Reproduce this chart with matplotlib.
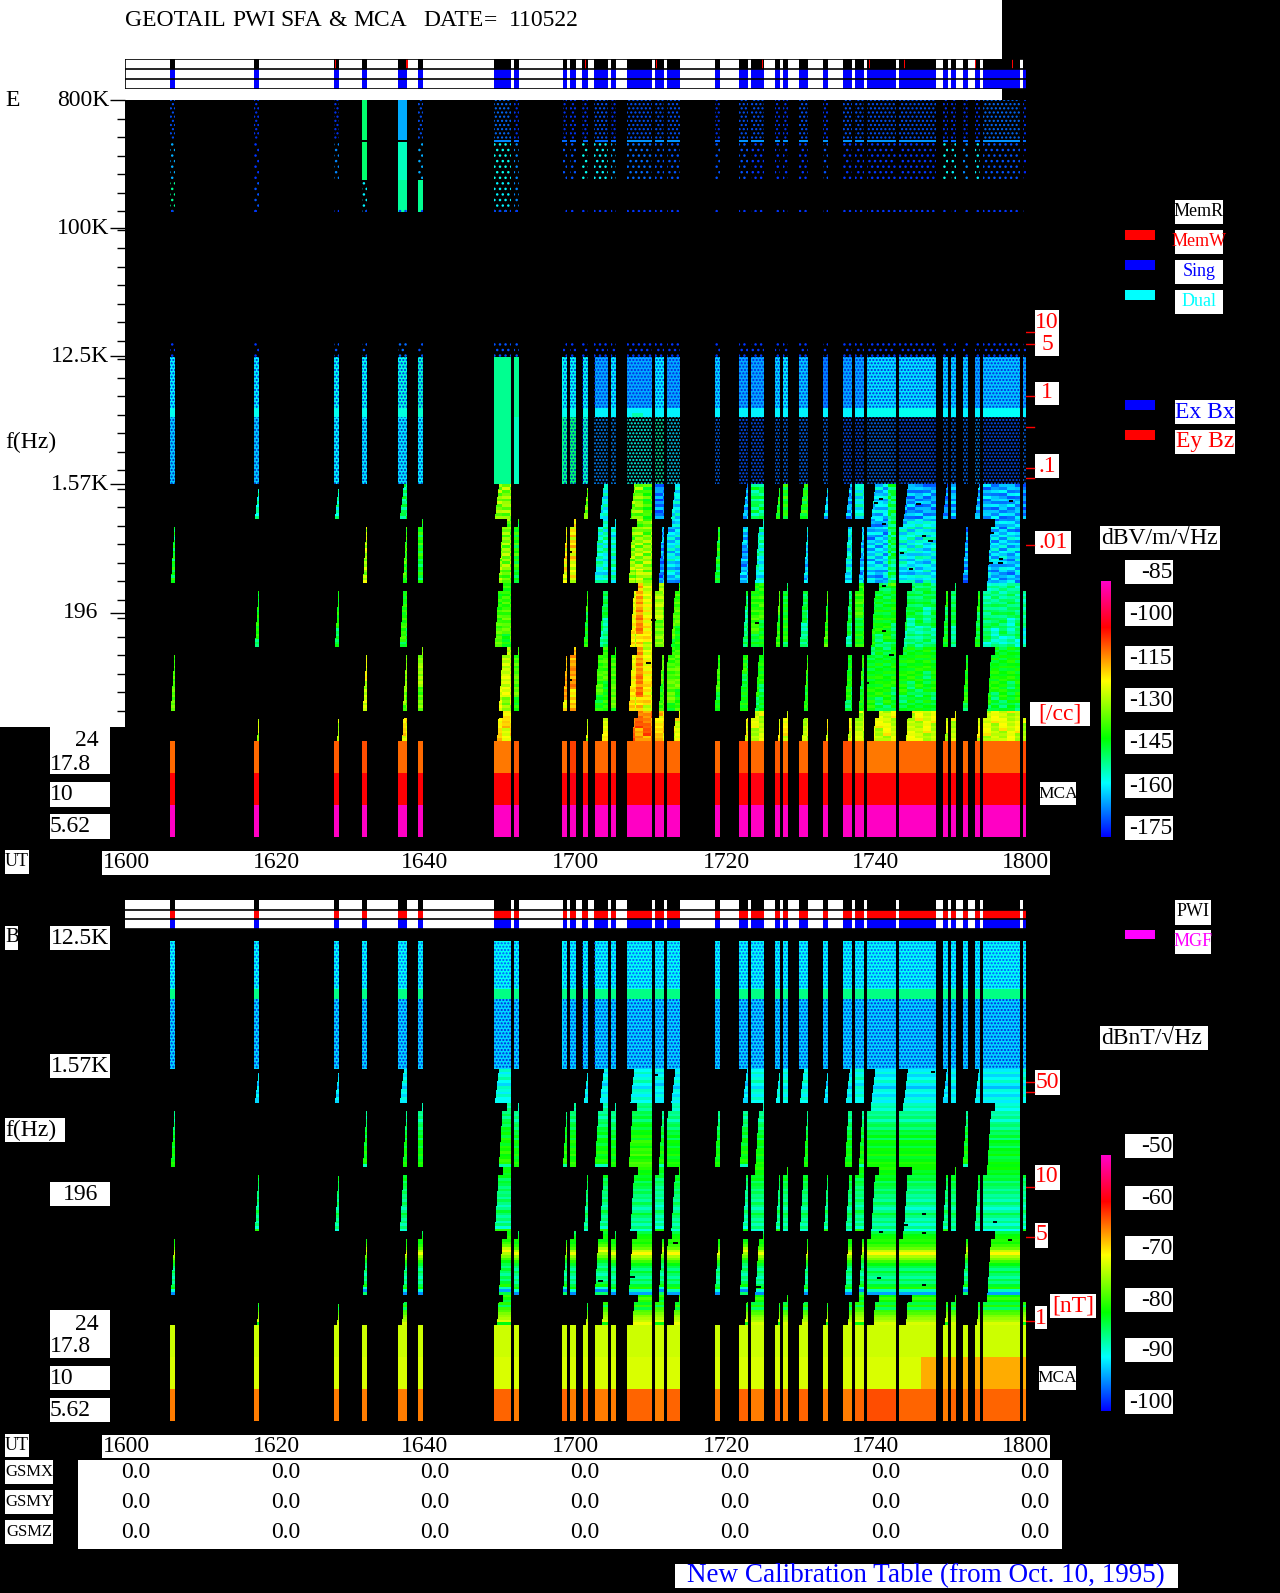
import numpy as np
import matplotlib
matplotlib.use('Agg')
import matplotlib.pyplot as plt
from matplotlib.colors import LinearSegmentedColormap, Normalize
from matplotlib.cm import ScalarMappable
from matplotlib.patches import Rectangle

plt.rcParams['font.family'] = ['Liberation Serif', 'DejaVu Sans']
plt.rcParams['hatch.linewidth'] = 1.0
W, H = 1280, 1593
nan = np.nan

# observation windows, minutes after 1600 UT
burst_start = [6.0, 17.2, 27.87, 31.6, 36.4, 39.07, 49.2, 51.87, 58.27, 59.33, 60.93, 62.53, 64.67, 66.8, 70.53, 72.13, 78.53,
               81.73, 83.33, 86.53, 87.6, 89.73, 92.93, 95.6, 97.2, 98.8, 103.07, 108.93, 110.0, 111.6, 113.2, 114.27, 119.6]
burst_stop = [6.67, 17.87, 28.53, 32.27, 37.6, 39.73, 51.47, 52.53, 58.93, 60.0, 61.6, 64.27, 65.33, 70.13, 71.73, 73.87, 79.2,
              82.93, 85.07, 87.2, 88.27, 90.93, 93.6, 96.8, 98.4, 102.67, 108.0, 109.6, 110.67, 112.27, 113.87, 119.2, 120.0]
# sweep lag at the left of each window, minutes (99 = band not sampled)
odd_lag = [99, .67, .67, 99, .8, 99, .67, 99, 99, 99, .67, 1.2, 99, 1.0, 0, 1.13, 99,
           1.07, 0, .67, 0, .67, .67, .93, 0, 1.13, 1.2, .53, 0, 99, .53, 0, 0]
even_lag = [.67, 99, 99, .67, 1.2, 0, 1.2, 0, .67, 0, 99, .53, 0, .8, 1.07, .2, .53,
            .67, 1.13, 99, 99, 1.2, 99, .8, 1.07, 0, 0, 99, 99, .53, 99, 1.13, 99]
memw_ticks = [27.95, 37.47, 61.2, 70.67, 84.8, 99.07, 103.73, 113.2, 118.13]

band_edges = [1570, 900, 317, 112, 40, 24.4]
band_drop = [.55, .55, .55, .55, .25]
band_step = [0, .125, .125, .125, .26]

# E field levels per window, dBV/m/rtHz
e_band1 = [-158, -155, -155, -150, -150, -160, -133, -160, -140, -140, -135, -158, -160, -140, -168, -160, -160,
           -165, -150, -143, -143, -143, -162, -165, -158, -162, -166, -168, -165, -165, -165, -165, -168]
e_band2 = [-145, -143, -140, -128, -140, -143, -133, -142, -122, -122, -140, -155, -155, -132, -165, -160, -143,
           -163, -155, -150, -150, -160, -150, -158, -162, -162, -158, -155, -155, -165, -155, -162, -165]
e_band3 = [-150, -145, -145, -140, -143, -150, -140, -145, -140, -140, -143, -150, -150, -125, -132, -140, -150,
           -150, -142, -140, -145, -150, -140, -150, -142, -146, -150, -145, -150, -150, -145, -152, -155]
e_band4 = [-140, -140, -140, -128, -136, -135, -130, -140, -120, -119, -140, -142, -140, -125, -140, -140, -143,
           -145, -146, -140, -140, -143, -140, -146, -144, -146, -146, -140, -140, -145, -140, -146, -147]
e_band5 = [-130, -128, -128, -125, -122, -125, -122, -130, -125, -125, -128, -124, -128, -113, -120, -124, -130,
           -124, -127, -125, -124, -127, -124, -125, -128, -126, -126, -127, -127, -130, -125, -126, -128]
e_stripe1 = [3, -4, 5, -6, 2, -3, 6, -5, -1, 4, -4, 2]
e_stripe2 = [-6, -2, -8, -1, -5, 3, -4, -9, 1, -3, 4, -6, 2, -2, 5, -7, 3, -1, 6, -4, 2, -6, 5, 1]
e_stripe3 = [-7, -3, -6, 0, -5, -2, 2, -4, 1, -3, 3, -1, 4, -2, 1, 5, -1, 3, 6, 0, 4, 2, 6, 3]
e_stripe4 = [-5, -2, -6, 1, -3, 2, -1, 4, -2, 3, 0, 5, -1, 3, 1, 4, 6, 2, 5, 0, 6, 3, 7, 4]
e_stripe5 = [-6, -3, -5, -1, -3, 0, -2, 2, 1, 3, 2, 5]
e_shift = [0, 3, 7, 11, 2, 9, 0, 5, 4, 8, 13, 6, 1, 0, 10, 3, 7, 14, 5, 12, 2, 9, 16, 4, 11, 0, 6, 15, 8, 3, 13, 2, 7]
b_shift = [0, 1, 0, 1, 0, 0, 1, 0, 1, 0, 0, 1, 0, 0, 1, 0, 0, 1, 0, 1, 0, 0, 1, 0, 1, 0, 0, 1, 0, 1, 0, 0, 1]
block_shift = [0, 5, 2, 9, 1, 7, 3, 11]

e_sparse_top = [-172, -174, -174, -150, -165, -172, -170, -174, -174, -174, -174, -172, -174, -172, -172, -172, -174,
                -172, -172, -174, -174, -172, -174, -172, -172, -172, -172, -174, -174, -174, -174, -170, -174]
e_line_418k = [nan, nan, nan, nan, nan, nan, -168, -170, -170, -170, -170, -170, -170, -167, -167, -167, -170,
               -167, -167, -167, -167, -167, -167, -167, -167, -167, -167, -170, -170, -170, -170, -167, -170]
e_sparse_mid = [-165, -174, -168, -150, -155, -165, -158, -168, -172, -172, -158, -160, -165, -170, -172, -172, -172,
                -172, -174, -174, -174, -174, -172, -174, -174, -174, -174, -158, -160, -168, -160, -172, -175]
e_sparse_low = [-152, -172, nan, -160, -153, -152, -160, -168, nan, nan, nan, nan, nan, nan, nan, nan, nan,
                nan, nan, nan, nan, nan, nan, nan, nan, nan, nan, nan, nan, nan, nan, nan, nan]
e_dot_row = [-174] * 33
e_onset = [-174, -174, -172, -172, -170, -172, -172, -172, -174, -174, -174, -174, -174, -174, -174, -174, -174,
           -174, -174, -174, -174, -174, -174, -174, -174, -174, -174, -174, -174, -174, -174, -174, -174]
e_plasma_hi = [-160, -160, -158, -158, -157, -156, -152, -152, -158, -158, -158, -165, -160, -165, -160, -165, -162,
               -165, -165, -162, -160, -163, -168, -165, -165, -161, -161, -162, -162, -162, -165, -163, -165]
e_plasma_line = [-158, -158, -158, -158, -157, -156, -152, -152, -158, -158, -158, -160, -160, -160, -160, -160, -160,
                 -160, -160, -160, -160, -160, -160, -160, -160, -158, -158, -160, -160, -160, -160, -159, -160]
e_plasma_lo = [-163, -163, -160, -161, -161, -160, -152, -155, -152, -150, -155, -168, -168, -158, -155, -162, -170,
               -172, -172, -170, -170, -170, -170, -172, -172, -170, -172, -170, -170, -170, -168, -172, -170]
e_mca_hi = [-112, -112, -111, -110, -112, -112, -113, -111, -112, -109, -112, -112, -111, -112, -111, -112, -112,
            -110, -112, -111, -112, -112, -111, -110, -112, -113, -112, -111, -112, -112, -111, -112, -110]
e_mca_mid = [-104, -104, -104, -104, -104, -104, -104, -104, -104, -103, -104, -104, -104, -104, -104, -104, -104,
             -104, -103, -104, -104, -104, -104, -104, -104, -104, -104, -104, -104, -104, -104, -104, -104]
e_mca_lo = [-88.5] * 33

# B field levels per window, dBnT/rtHz
b_band1 = [-90, -90, -90, -90, -89, -90, -88, -90, -88, -88, -89, -89, -90, -88, -89, -89, -90,
           -90, -88, -88, -88, -88, -90, -89, -88, -89, -89, -90, -89, -90, -89, -89, -88]
b_band2 = [-84, -84, -84, -84, -84, -84, -83, -84, -83, -83, -84, -84, -84, -82, -84, -84, -84,
           -84, -84, -84, -84, -84, -84, -84, -84, -84, -84, -84, -84, -84, -84, -85, -84]
b_band3 = [-84, -84, -84, -84, -84, -84, -84, -84, -84, -84, -84, -84, -84, -84, -85, -84, -84,
           -85, -84, -84, -84, -84, -84, -84, -84, -84, -85, -84, -84, -84, -84, -85, -85]
b_band4 = [-84, -84, -84, -84, -84, -84, -83, -84, -84, -84, -84, -84, -84, -83, -84, -83, -84,
           -84, -84, -84, -84, -84, -84, -84, -84, -83, -83, -84, -84, -84, -84, -83, -84]
b_band5 = [-82, -82, -82, -82, -82, -82, -82, -82, -82, -82, -82, -82, -82, -81, -82, -81, -82,
           -82, -82, -82, -82, -82, -82, -82, -82, -82, -82, -82, -82, -82, -82, -82, -82]
b_stripe1 = [-3, -1, -4, -2, 0, -3, -5, -1, -2, -4, -1, -3]
b_stripe2 = [-5, -4, -6, -3, -4, -2, -5, -2, -1, -3, 0, -1, 1, -2, 2, 1, -1, 2, 1, 3, 0, 1, 3, 2]
b_stripe3 = [3, 1, 2, 0, 1, -2, 0, -1, -3, -1, -3, -2, -4, -1, -3, -5, -3, 0, -2, -4, -2, -5, -2, -6]
b_stripe4 = [-2, 0, 1, 2, 1, 3, 5, 9, 12, 8, 6, 3, 0, -2, -4, -1, -3, -5, -2, -4, -1, 2, -6, -12]
b_stripe5 = [-1, 2, 0, -3, 1, -4, 2, 3, 5, 6, 7, 9]
b_noise_hi = [-91] * 33
b_noise_line = [-87] * 33
b_noise_lo = [-93] * 33
b_mca_hi = [-73.5] * 33
b_mca_mid = [-73] * 33
b_mca_mid_late = -68
b_mca_late_start = 106.0
b_mca_lo = [-66, -66, -66, -66, -66, -66, -65, -66, -65, -66, -65, -66, -66, -65, -66, -65, -66,
            -65, -66, -65, -66, -65, -66, -66, -65, -64, -65, -66, -65, -66, -65, -65, -66]

# bright vertical streaks: start, stop, f low, f high, dB added
streak_t0 = [101.6, 101.0, 68.0, 67.5]
streak_t1 = [102.67, 102.2, 69.0, 69.0]
streak_lo = [300, 1570, 40, 900]
streak_hi = [1570, 3000, 400, 5000]
streak_db = [14, 12, 8, 6]

# short black dropouts
drop_t = [100.7, 105.7, 101.1, 103.5, 106.4, 115.4, 116.6, 101.1, 102.1, 98.8, 84.2, 59.2, 59.2, 70.4, 69.7,
          100.0, 101.1, 107.3, 104.7, 116.7, 115.3, 118.0]
drop_f = [1244, 1148, 303, 518, 680, 716, 440, 146, 98, 63, 166, 526, 66, 175, 87,
          1168, 829, 630, 400, 470, 440, 1205]
b_drop_t = [107.6, 70.7, 104.0, 106.4, 115.9, 117.9, 100.4, 106.4, 73.3, 67.6, 84.4, 63.3, 106.4, 100.7]
b_drop_f = [1488, 1420, 124, 148, 130, 97, 52, 47, 92, 53, 45, 50, 109, 110]

ut_ticks = ['1600', '1620', '1640', '1700', '1720', '1740', '1800']
gsm_names = ['GSMX', 'GSMY', 'GSMZ']
gsm_values = ['0.0', '0.0', '0.0', '0.0', '0.0', '0.0', '0.0']
e_freq_ticks = [800e3, 100e3, 12.5e3, 1570, 196]
e_cbar_labels = ['-85', '-100', '-115', '-130', '-145', '-160', '-175']
b_cbar_labels = ['-50', '-60', '-70', '-80', '-90', '-100']

cmap = LinearSegmentedColormap.from_list('geotail', [(0, '#0000ff'), (.21, '#00ffff'), (.385, '#00ff00'),
                                                      (.61, '#ffff00'), (.82, '#ff0000'), (1, '#ff00c8')])
cmap.set_bad((0, 0, 0, 0))
e_norm = Normalize(-178, -88)
b_norm = Normalize(-101.8, -51.8)


def px_axes(fig, x0, y0, x1, y1, **kw):
    return fig.add_axes([x0 / W, 1 - y1 / H, (x1 - x0) / W, (y1 - y0) / H], **kw)


def fill_group(Z, t, fmid, f_hi, f_lo, levels):
    rows = np.where((fmid <= f_hi) & (fmid > f_lo))[0]
    for i in range(len(levels)):
        cols = (t >= burst_start[i]) & (t < burst_stop[i])
        Z[np.ix_(rows, np.where(cols)[0])] = levels[i]


def fill_bands(Z, t, fmid, tables, stripes, shifts):
    for k in range(5):
        f_hi, f_lo = band_edges[k], band_edges[k + 1]
        rows = np.where((fmid <= f_hi) & (fmid > f_lo))[0]
        frac = np.log(f_hi / fmid[rows]) / np.log(f_hi / f_lo)
        stripe = np.array(stripes[k], dtype=float)
        idx = np.minimum((frac * len(stripe)).astype(int), len(stripe) - 1)
        lags = odd_lag if k % 2 == 0 else even_lag
        for i in range(len(burst_start)):
            if lags[i] == 99:
                continue
            lag = np.maximum(lags[i] - band_drop[k] * frac, 0)
            lag[frac < band_step[k]] = lags[i] + .53
            block = ((t - burst_start[i]) / 1.07).astype(int)
            for r, l, n in zip(rows, lag, idx):
                cols = np.where((t >= burst_start[i] + l) & (t < burst_stop[i]))[0]
                if len(cols) == 0:
                    continue
                bump = np.array(block_shift)[block[cols] % len(block_shift)] if shifts is e_shift else 0
                Z[r, cols] = tables[k][i] + stripe[(n + shifts[i] + bump) % len(stripe)]


def sparse_group(ax, f_hi, f_lo, levels, hatch, norm, solid=()):
    # scattered samples: dots of the level's colour on the black ground
    for i in range(len(levels)):
        if i in solid or np.isnan(levels[i]):
            continue
        ax.add_patch(Rectangle((burst_start[i], f_lo), burst_stop[i] - burst_start[i], f_hi - f_lo, facecolor='none',
                               edgecolor=cmap(norm(levels[i])), hatch=hatch, lw=0))


def hatch_group(ax, f_hi, f_lo, levels, hatch, color, skip=()):
    for i in range(len(levels)):
        if i in skip or np.isnan(levels[i]):
            continue
        ax.add_patch(Rectangle((burst_start[i], f_lo), burst_stop[i] - burst_start[i], f_hi - f_lo, facecolor='none',
                               edgecolor=color, hatch=hatch, lw=0))


def spec_axes(fig, y0, y1, f_top):
    ax = px_axes(fig, 125, y0, 1026, y1, zorder=2)
    ax.set_facecolor('black')
    ax.set_yscale('log')
    ax.set_xlim(0, 120)
    ax.set_ylim(24.4, f_top)
    ax.set_xticks([])
    ax.set_yticks([])
    ax.minorticks_off()
    for s in ax.spines.values():
        s.set_visible(False)
    return ax


def mca_axes(fig, y0, y1, hi, mid, lo, norm, late=None):
    ax = px_axes(fig, 125, y0, 1026, y1, zorder=2)
    ax.set_facecolor('black')
    ax.axis('off')
    t_e = np.arange(901) / 7.5
    t = t_e[:-1] + .5 / 7.5
    Z = np.full((3, 900), nan)
    for i, vals in enumerate([lo, mid, hi]):
        for b in range(len(vals)):
            Z[i, (t >= burst_start[b]) & (t < burst_stop[b])] = vals[b]
    if late is not None:
        Z[1, (t >= late[0]) & ~np.isnan(Z[1])] = late[1]
    ax.pcolormesh(t_e, [0, 1, 2, 3], Z, cmap=cmap, norm=norm, antialiased=False)
    ax.set_xlim(0, 120)
    ax.set_ylim(0, 3)


def status_axes(fig, y0, y1, rows):
    ax = px_axes(fig, 125, y0, 1026, y1, zorder=2)
    ax.set_xlim(0, 120)
    ax.set_ylim(len(rows), 0)
    ax.axis('off')
    ax.add_patch(Rectangle((0, 0), 120, len(rows), fc='white', lw=0))
    spans = [(burst_start[i], burst_stop[i] - burst_start[i]) for i in range(len(burst_start))]
    for r, c in enumerate(rows):
        ax.broken_barh(spans, (r, 1), facecolors=c, lw=0)
    return ax


fig = plt.figure(figsize=(W / 100, H / 100), dpi=100, facecolor='black')
over = fig.add_axes([0, 0, 1, 1], zorder=1)
over.set_xlim(0, W)
over.set_ylim(H, 0)
over.axis('off')


def box(x0, y0, x1, y1, color='white'):
    over.add_patch(Rectangle((x0, y0), x1 - x0, y1 - y0, fc=color, lw=0))


def label(x, y, s, color='black', ha='left', size=17):
    over.text(x, y + 2, s, color=color, ha=ha, va='center', fontsize=size)


# white page parts
box(0, 0, 1002, 100)
box(0, 100, 125, 727)
for x, s in zip([125, 232, 280, 328, 353, 423, 484, 509], ['GEOTAIL', 'PWI', 'SFA', '&', 'MCA', 'DATE', '=', '110522']):
    label(x, 19, s)

# E panel left labels
label(5, 98, 'E')
for y, s in zip([98, 227, 354, 483], ['800K', '100K', '12.5K', '1.57K']):
    label(109, y, s, ha='right')
label(98, 611, '196', ha='right')
label(5, 440, 'f(Hz)')
box(50, 727, 110, 774)
box(50, 782, 110, 807)
box(50, 814, 110, 839)
label(99, 739, '24', ha='right')
label(50, 762, '17.8')
label(50, 793, '10')
label(50, 825, '5.62')

# UT rows
for y0, y1, ty in [(851, 875, 861), (1435, 1458, 1445)]:
    box(102, y0, 1050, y1)
    box(5, y0 - 1, 29, y1 - 1)
    label(17, ty - 1, 'UT', ha='center', size=13)
    for x, s in zip([126, 276, 425, 575.5, 726, 876, 1025], ut_ticks):
        label(x, ty, s, ha='center')

# density and legend labels of the E panel
for x0, y0, x1, y1 in [(1035, 310, 1059, 333), (1035, 333, 1059, 356), (1035, 382, 1059, 405), (1035, 454, 1059, 478),
                        (1035, 531, 1071, 554), (1030, 702, 1090, 726)]:
    box(x0, y0, x1, y1)
for x, y, s in [(1047, 320, '10'), (1047, 343, '5'), (1047, 391, '1'), (1047, 464, '.1'), (1053, 540, '.01'), (1060, 712, '[/cc]')]:
    label(x, y, s, color='red', ha='center')
for y in [332, 344, 396, 427, 468, 478, 545]:
    over.plot([1026, 1034], [y, y], color='red', lw=1)
box(1040, 782, 1076, 805)
label(1058, 792, 'MCA', ha='center', size=12.5)
for y0, c, s, tc in [(200, None, 'MemR', 'black'), (230, 'red', 'MemW', 'red'), (260, 'blue', 'Sing', 'blue'), (290, 'cyan', 'Dual', 'cyan')]:
    box(1175, y0, 1223, y0 + 24)
    label(1199, y0 + 10, s, color=tc, ha='center', size=13)
    if c:
        box(1125, y0, 1155, y0 + 10, c)
for y0, c, s in [(400, 'blue', 'Ex Bx'), (430, 'red', 'Ey Bz')]:
    box(1175, y0, 1235, y0 + 24)
    label(1205, y0 + 10, s, color=c, ha='center')
    box(1125, y0, 1155, y0 + 10, c)
box(1100, 526, 1220, 550)
label(1101, 536, 'dBV/m/√Hz')
for y, s in zip([572, 614, 658, 700, 742, 786, 828], e_cbar_labels):
    box(1125, y - 12, 1173, y + 12)
    label(1172, y - 2, s, ha='right')

# B panel labels
box(5, 926, 18, 950)
label(5, 936, 'B', size=15)
for y0, s in [(926, '12.5K'), (1054, '1.57K')]:
    box(50, y0, 110, y0 + 24)
    label(109, y0 + 10, s, ha='right')
box(50, 1182, 110, 1206)
label(98, 1192, '196', ha='right')
box(5, 1118, 65, 1142)
label(5, 1128, 'f(Hz)')
box(50, 1310, 110, 1358)
box(50, 1366, 110, 1390)
box(50, 1398, 110, 1422)
label(99, 1322, '24', ha='right')
label(50, 1345, '17.8')
label(50, 1376, '10')
label(50, 1408, '5.62')
box(1175, 900, 1211, 925)
label(1193, 910, 'PWI', ha='center', size=13)
box(1175, 930, 1211, 954)
label(1193, 940, 'MGF', color='magenta', ha='center', size=13)
box(1125, 930, 1155, 939, 'magenta')
box(1100, 1026, 1208, 1050)
label(1101, 1036, 'dBnT/√Hz')
for y, s in zip([1146, 1198, 1248, 1300, 1350, 1402], b_cbar_labels):
    box(1125, y - 12, 1173, y + 12)
    label(1172, y - 2, s, ha='right')
box(1039, 1366, 1076, 1390)
label(1057, 1376, 'MCA', ha='center', size=12.5)
for x0, y0, x1, y1 in [(1035, 1070, 1060, 1095), (1035, 1165, 1060, 1190), (1035, 1223, 1048, 1248), (1035, 1306, 1047, 1329), (1050, 1294, 1096, 1318)]:
    box(x0, y0, x1, y1)
for x, y, s in [(1047, 1080, '50'), (1047, 1175, '10'), (1041, 1233, '5'), (1041, 1316, '1'), (1073, 1304, '[nT]')]:
    label(x, y, s, color='red', ha='center')
for y in [1082, 1092, 1187, 1237, 1321]:
    over.plot([1026, 1034], [y, y], color='red', lw=1)

# GSM table and footer
box(78, 1460, 1062, 1549)
for y0, ty, s in zip([1460, 1490, 1520], [1471, 1500, 1530], gsm_names):
    box(5, y0, 53, y0 + 24)
    label(29, y0 + 10, s, ha='center', size=12)
    for x, v in zip([135.5, 286, 435, 585, 735, 886, 1035], gsm_values):
        label(x, ty, v, ha='center')
box(675, 1564, 1178, 1588)
label(926, 1574, 'New Calibration Table (from Oct. 10, 1995)', color='blue', ha='center', size=19.5)

# status strips
st_e = status_axes(fig, 59, 89, ['black', 'blue', 'blue'])
st_e.broken_barh([(t, .2) for t in memw_ticks], (0, 1), facecolors='red', lw=0)
st_e.hlines([0, 1, 2, 3], 0, 120, color='black', lw=1.2)
st_e.vlines(0, 0, 3, color='black', lw=1.2)
st_b = status_axes(fig, 900, 929, ['black', 'red', 'blue'])
st_b.hlines([1, 2, 3], 0, 120, color='black', lw=1.2)

# E spectrogram
t_edges = np.arange(901) / 7.5
t_mid = t_edges[:-1] + .5 / 7.5
ax_e = spec_axes(fig, 100, 741, 800e3)
f_edges = np.geomspace(800e3, 24.4, 642)
f_mid = np.sqrt(f_edges[:-1] * f_edges[1:])
Z = np.full((641, 900), nan)
plasma_solid = (0, 1, 2, 3, 4, 5, 6, 7, 8, 9, 10)
fill_group(Z, t_mid, f_mid, 800e3, 418e3, [e_sparse_top[i] if i in (3, 4) else nan for i in range(33)])
fill_group(Z, t_mid, f_mid, 404e3, 218e3, [e_sparse_mid[i] if i in (3, 4) else nan for i in range(33)])
fill_group(Z, t_mid, f_mid, 218e3, 130e3, [e_sparse_low[i] if i in (4, 5) else nan for i in range(33)])
for f_hi, f_lo, lev in [(418e3, 404e3, e_line_418k), (12.3e3, 5370, e_plasma_hi), (5370, 4700, e_plasma_line)]:
    fill_group(Z, t_mid, f_mid, f_hi, f_lo, lev)
fill_group(Z, t_mid, f_mid, 4700, 1570, [e_plasma_lo[i] if i in plasma_solid else nan for i in range(33)])
fill_bands(Z, t_mid, f_mid, [e_band1, e_band2, e_band3, e_band4, e_band5], [e_stripe1, e_stripe2, e_stripe3, e_stripe4, e_stripe5], e_shift)
for t0, t1, lo, hi, db in zip(streak_t0, streak_t1, streak_lo, streak_hi, streak_db):
    Z[np.ix_((f_mid > lo) & (f_mid <= hi), (t_mid >= t0) & (t_mid < t1))] += db
ax_e.pcolormesh(t_edges, f_edges, Z, cmap=cmap, norm=e_norm, antialiased=False)
ax_e.set_ylim(24.4, 800e3)
sparse_group(ax_e, 800e3, 418e3, e_sparse_top, '....', e_norm, solid=(3, 4))
sparse_group(ax_e, 404e3, 218e3, e_sparse_mid, '...', e_norm, solid=(3, 4))
sparse_group(ax_e, 218e3, 130e3, e_sparse_low, '...', e_norm, solid=(4, 5))
sparse_group(ax_e, 137e3, 130e3, e_dot_row, '...', e_norm)
sparse_group(ax_e, 15.7e3, 12.3e3, e_onset, '...', e_norm)
sparse_group(ax_e, 4700, 1570, e_plasma_lo, '.....', e_norm, solid=plasma_solid)
hatch_group(ax_e, 4700, 1570, e_plasma_lo, '.....', '#0020c0', skip=(6, 7) + tuple(range(11, 33)))
hatch_group(ax_e, 12.3e3, 5370, e_plasma_hi, '.....', '#0020e0', skip=(6, 7))
ax_e.hlines(drop_f, np.array(drop_t) - .3, np.array(drop_t) + .3, color='black', lw=1.4)

# frequency ticks of the E axis
ax_e.set_yticks(e_freq_ticks, [''] * 5)
ax_e.set_yticks(np.geomspace(800e3, 40, 34), [''] * 34, minor=True)
ax_e.tick_params(axis='y', which='major', length=11, color='black', width=1)
ax_e.tick_params(axis='y', which='minor', length=6, color='black', width=1)

mca_axes(fig, 741, 837, e_mca_hi, e_mca_mid, e_mca_lo, e_norm)

# B spectrogram
ax_b = spec_axes(fig, 941, 1325, 12.5e3)
f_edges = np.geomspace(12.5e3, 24.4, 385)
f_mid = np.sqrt(f_edges[:-1] * f_edges[1:])
Z = np.full((384, 900), nan)
for f_hi, f_lo, lev in [(12.5e3, 5700, b_noise_hi), (5700, 4900, b_noise_line), (4900, 1570, b_noise_lo)]:
    fill_group(Z, t_mid, f_mid, f_hi, f_lo, lev)
fill_bands(Z, t_mid, f_mid, [b_band1, b_band2, b_band3, b_band4, b_band5], [b_stripe1, b_stripe2, b_stripe3, b_stripe4, b_stripe5], b_shift)
ax_b.pcolormesh(t_edges, f_edges, Z, cmap=cmap, norm=b_norm, antialiased=False)
ax_b.set_ylim(24.4, 12.5e3)
hatch_group(ax_b, 12.5e3, 5700, b_noise_hi, '.....', '#0050ff')
hatch_group(ax_b, 4900, 1570, b_noise_lo, '.....', '#0020e0')
ax_b.hlines(b_drop_f, np.array(b_drop_t) - .3, np.array(b_drop_t) + .3, color='black', lw=1.4)

mca_axes(fig, 1325, 1421, b_mca_hi, b_mca_mid, b_mca_lo, b_norm, late=(b_mca_late_start, b_mca_mid_late))

# colour bars
for y0, y1, norm in [(581, 837, e_norm), (1155, 1411, b_norm)]:
    cax = px_axes(fig, 1101, y0, 1111, y1, zorder=2)
    cb = fig.colorbar(ScalarMappable(norm=norm, cmap=cmap), cax=cax)
    cb.set_ticks([])
    cb.outline.set_visible(False)

fig.savefig('out.png', dpi=100, facecolor='black')
